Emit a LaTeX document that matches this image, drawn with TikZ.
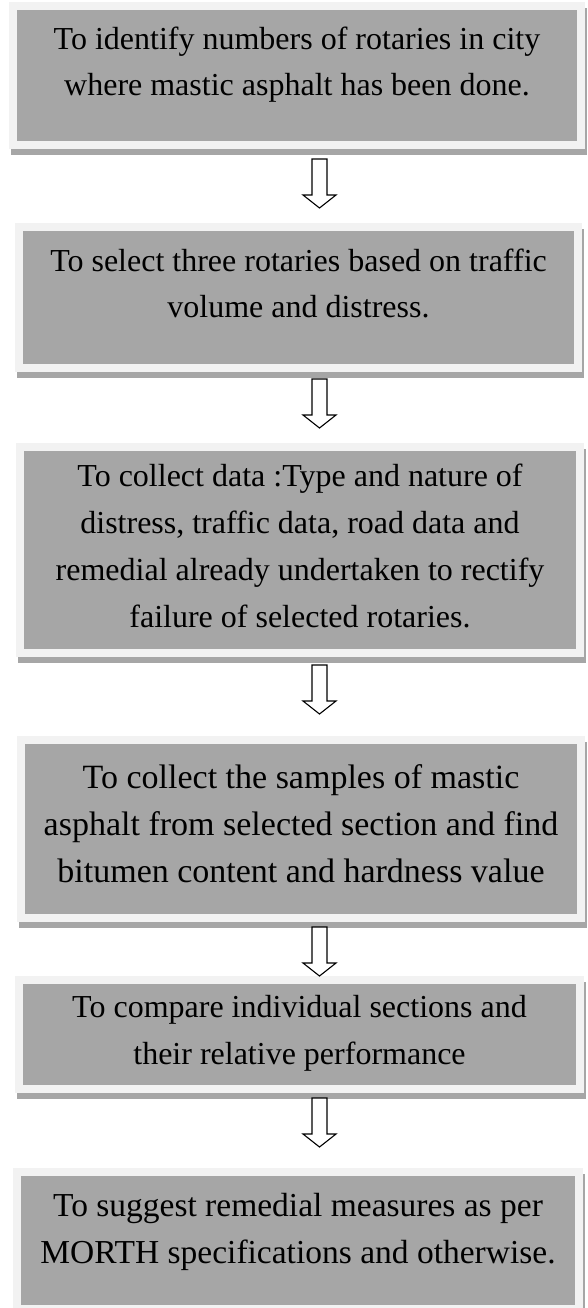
\documentclass[tikz,border=0pt]{standalone}
\usepackage{fontspec}
\setmainfont{Liberation Serif}
\definecolor{boxgray}{HTML}{A6A6A6}
\definecolor{lightbg}{HTML}{F2F2F2}
\definecolor{shadowgray}{HTML}{A6A6A6}
\tikzset{
  outerbox/.style={rectangle, fill=lightbg, draw=none, inner sep=0pt, outer sep=0pt},
  innerbox/.style={rectangle, fill=boxgray, draw=none, inner sep=0pt, outer sep=0pt},
  shadowfill/.style={fill=shadowgray},
  txt/.style={anchor=north, align=center, inner sep=0pt, text=black},
  txtA/.style={txt, font=\fontsize{32}{46}\selectfont},
  txtB/.style={txt, font=\fontsize{32}{47}\selectfont},
  txtC/.style={txt, font=\fontsize{34}{47}\selectfont},
  txtD/.style={txt, font=\fontsize{33.5}{47}\selectfont},
  blockarrow/.style={draw=black, fill=white, line width=1.1pt, line join=miter}
}
\newcommand\mkbox[5]{%
  \fill[shadowfill] (#2+2,#3+6) rectangle (#4+2,#5+6);
  \node[outerbox, minimum width={#4-#2}, minimum height={#5-#3}] (#1) at ({(#2+#4)/2},{(#3+#5)/2}) {};
  \node[innerbox, minimum width={#4-#2-16}, minimum height={#5-#3-16}] (#1in) at (#1.center) {};
}
\newcommand\mkarrow[3]{%
  \coordinate (#1) at (#2,#3);
  \draw[blockarrow] ([shift={(-7.5,0)}]#1) -- ([shift={(-7.5,36)}]#1) -- ([shift={(-16.5,36)}]#1)
    -- ([shift={(0,49)}]#1) -- ([shift={(16.5,36)}]#1) -- ([shift={(7.5,36)}]#1)
    -- ([shift={(7.5,0)}]#1) -- cycle;
}
\begin{document}
\begin{tikzpicture}[x=1pt,y=-1pt]
\useasboundingbox[fill=white] (0,0) rectangle (587,1308);

\mkbox{b1}{9}{2}{585}{149}
\mkbox{b2}{15}{223}{582}{372}
\mkbox{b3}{16}{443}{584}{657}
\mkbox{b4}{17}{736}{585}{922}
\mkbox{b5}{15}{976}{584}{1093}
\mkbox{b6}{13}{1168}{583}{1313}

\node[txtA] (t1) at (297,27) {To identify numbers of rotaries in city\\where mastic asphalt has been done.};
\node[txtA] (t2) at (298.5,249) {To select three rotaries based on traffic\\volume and distress.};
\node[txtB] (t3) at (300,464) {To collect data :Type and nature of\\distress, traffic data, road data and\\remedial already undertaken to rectify\\failure of selected rotaries.};
\node[txtC] (t4) at (301,764) {To collect the samples of mastic\\asphalt from selected section and find\\bitumen content and hardness value};
\node[txtB] (t5) at (299.5,995) {To compare individual sections and\\their relative performance};
\node[txtD] (t6) at (298,1193) {To suggest remedial measures as per\\MORTH specifications and otherwise.};

\mkarrow{a1}{319.5}{159}
\mkarrow{a2}{319.5}{379}
\mkarrow{a3}{319.5}{665}
\mkarrow{a4}{319.5}{927}
\mkarrow{a5}{319.5}{1098}
\end{tikzpicture}
\end{document}
